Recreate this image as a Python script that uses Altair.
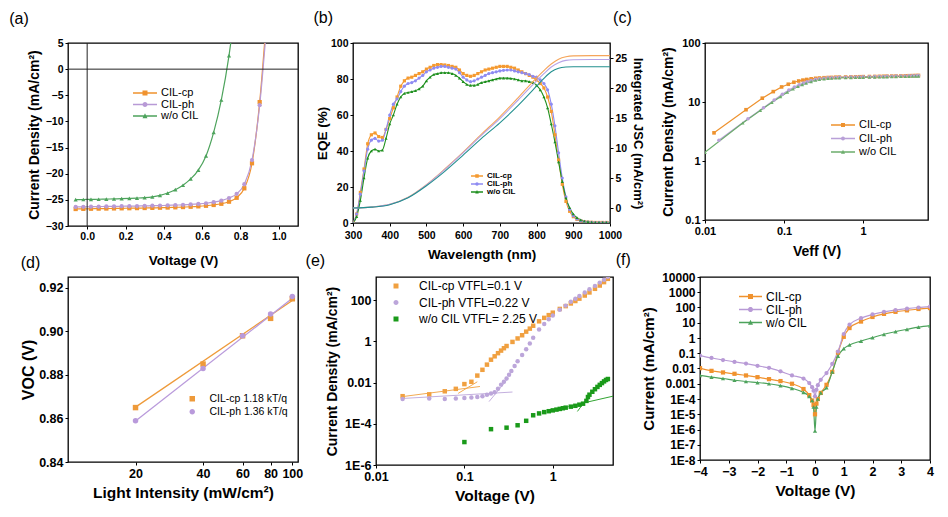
import altair as alt
import pandas as pd

FONT = "Liberation Sans"
SER = ["CIL-cp", "CIL-ph", "w/o CIL"]
NB = "\u00a0"
MK3 = ["square", "circle", "triangle-up"]

# ---------------- (a) J-V ----------------
A_V = [-0.06, -0.02, 0.02, 0.06, 0.10, 0.14, 0.18, 0.22, 0.26, 0.30, 0.34, 0.38, 0.42,
       0.46, 0.50, 0.54, 0.58, 0.62, 0.66, 0.70, 0.74, 0.78, 0.82, 0.86, 0.90, 0.94]
A_CP = [-26.75, -26.72, -26.70, -26.68, -26.66, -26.64, -26.62, -26.60, -26.58, -26.56, -26.53, -26.50, -26.47,
        -26.43, -26.38, -26.32, -26.24, -26.13, -25.98, -25.75, -25.35, -24.60, -22.80, -18.00, -6.30, 12.0]
A_PH = [-26.35, -26.33, -26.30, -26.28, -26.26, -26.24, -26.22, -26.20, -26.18, -26.15, -26.12, -26.09, -26.05,
        -26.00, -25.95, -25.88, -25.78, -25.65, -25.45, -25.15, -24.65, -23.85, -22.00, -17.40, -6.90, 10.0]
A_WO = [-24.95, -24.93, -24.90, -24.88, -24.85, -24.82, -24.78, -24.73, -24.66, -24.57, -24.42, -24.15, -23.70,
        -23.05, -22.20, -21.00, -19.30, -16.60, -12.10, -5.90, 2.60, 14.0]
A_XT = [0.0, 0.2, 0.4, 0.6, 0.8, 1.0]
A_YT = [-30, -25, -20, -15, -10, -5, 0, 5]
A_COL = ["#F0922E", "#B89AD6", "#4DA35C"]

# ---------------- (b) EQE ----------------
B_L = [300, 310, 320, 330, 340, 350, 360, 370, 380, 390, 400, 410, 420, 430, 440, 450, 460, 470, 480, 490,
       500, 510, 520, 530, 540, 550, 560, 570, 580, 590, 600, 610, 620, 630, 640, 650, 660, 670, 680, 690,
       700, 710, 720, 730, 740, 750, 760, 770, 780, 790, 800, 810, 820, 830, 840, 850, 860, 870, 880, 890,
       900, 910, 920, 930, 940, 950, 960, 970, 980, 990, 1000]
B_CP = [0, 5, 17, 30, 44, 49, 50, 48, 47.5, 52, 58, 64, 70, 76, 79, 80.5, 81, 82, 83, 84,
        85.5, 86.5, 87.5, 88, 88, 87.8, 87.5, 87, 86.5, 85, 83, 82, 81.5, 82, 83, 84, 85, 85.5, 86, 86.5,
        87, 87, 87, 86.5, 86, 85, 84, 83, 82, 81, 79.5, 77.5, 75, 70, 62, 49, 35, 21.5, 12, 6.5,
        3.5, 2, 1.2, 0.8, 0.5, 0.4, 0.3, 0.3, 0.3, 0.3, 0.3]
B_PH = [0, 5, 16, 29, 41, 46, 47, 45.5, 46, 52, 60, 66, 69, 73, 76, 77.5, 78, 79, 80.5, 82,
        84, 85, 86, 86.5, 87, 87, 86.5, 86, 85.5, 83.5, 81, 79.5, 78.5, 79, 80, 81, 82, 83, 83.5, 84,
        84.5, 84.8, 85, 85, 84.5, 84, 83.5, 83, 82.5, 81.5, 81, 79.5, 77.5, 74, 66, 54, 39, 25, 14.5, 7.5,
        4, 2.2, 1.3, 0.8, 0.5, 0.4, 0.3, 0.3, 0.3, 0.3, 0.3]
B_WO = [0, 3.5, 12.5, 25, 36, 40, 41, 40, 40.5, 47, 55, 60, 66, 70, 72, 72.5, 73, 73.5, 74.5, 76,
        79, 81, 82.5, 83, 83.5, 83.5, 83.5, 83, 82, 80.5, 78.5, 77, 76.5, 76.5, 77, 78, 78.5, 79, 79.5, 80,
        80.5, 80.5, 80.5, 80.3, 80, 79.5, 79, 79, 78.5, 78, 76.5, 74, 70, 64, 55, 45, 34, 23, 14, 8.5,
        5, 3, 1.8, 1.1, 0.7, 0.5, 0.4, 0.4, 0.4, 0.4, 0.4]
B_IL = [300, 350, 400, 450, 500, 550, 600, 650, 700, 750, 800, 820, 840, 860, 880, 900, 950, 1000]
B_ICP = [0, 0.15, 0.6, 1.8, 3.9, 6.5, 9.3, 12.3, 15.2, 18.4, 21.7, 22.9, 24.0, 24.8, 25.2, 25.35, 25.4, 25.4]
B_IPH = [0, 0.15, 0.6, 1.75, 3.85, 6.4, 9.2, 12.1, 14.9, 18.0, 21.2, 22.4, 23.5, 24.2, 24.6, 24.7, 24.75, 24.75]
B_IWO = [0, 0.14, 0.55, 1.7, 3.7, 6.1, 8.8, 11.6, 14.2, 17.1, 20.3, 21.6, 22.7, 23.3, 23.5, 23.55, 23.55, 23.55]
B_XT = [300, 400, 500, 600, 700, 800, 900, 1000]
B_YT = [0, 20, 40, 60, 80, 100]
B_Y2T = [0, 5, 10, 15, 20, 25]
B_COL = ["#F59A30", "#8E8BF2", "#1E8F1E"]
B_ICOL = ["#F5A55A", "#B7A3E6", "#23908F"]

# ---------------- (c) Jph-Veff ----------------
C_VCP = [0.013, 0.033, 0.053, 0.073, 0.093, 0.113, 0.133, 0.153, 0.173, 0.193, 0.22, 0.25, 0.28, 0.32, 0.36, 0.4,
         0.45, 0.5, 0.6, 0.7, 0.8, 0.9, 1.0, 1.2, 1.4, 1.6, 1.8, 2.0, 2.3, 2.6, 3.0, 3.4, 3.8, 4.2, 4.6, 5.0]
C_JCP = [3.0, 7.4, 11.6, 15.0, 18.0, 20.0, 21.6, 22.7, 23.5, 24.1, 24.7, 25.2, 25.5, 25.8, 26.0, 26.1,
         26.3, 26.4, 26.5, 26.6, 26.7, 26.8, 26.9, 27.0, 27.1, 27.2, 27.3, 27.4, 27.5, 27.6, 27.7, 27.8, 27.9, 28.0, 28.1, 28.2]
C_VPH = [0.015, 0.035, 0.055, 0.075, 0.095, 0.115, 0.135, 0.155, 0.175, 0.195, 0.22, 0.25, 0.28, 0.32, 0.36, 0.4,
         0.45, 0.5, 0.6, 0.7, 0.8, 0.9, 1.0, 1.2, 1.4, 1.6, 1.8, 2.0, 2.3, 2.6, 3.0, 3.4, 3.8, 4.2, 4.6, 5.0]
C_JPH = [2.25, 5.2, 8.0, 10.8, 13.5, 16.0, 18.0, 19.6, 21.0, 22.0, 23.2, 24.2, 24.8, 25.3, 25.6, 25.8,
         26.0, 26.1, 26.3, 26.4, 26.5, 26.6, 26.7, 26.8, 26.9, 27.0, 27.1, 27.2, 27.3, 27.4, 27.5, 27.6, 27.7, 27.8, 27.9, 28.0]
C_VWO = [0.01, 0.03, 0.05, 0.07, 0.09, 0.11, 0.13, 0.15, 0.17, 0.19, 0.22, 0.25, 0.28, 0.32, 0.36, 0.4,
         0.45, 0.5, 0.6, 0.7, 0.8, 0.9, 1.0, 1.2, 1.4, 1.6, 1.8, 2.0, 2.3, 2.6, 3.0, 3.4, 3.8, 4.2, 4.6, 5.0]
C_JWO = [1.4, 4.4, 7.2, 9.8, 12.3, 14.6, 16.6, 18.3, 19.7, 20.8, 22.2, 23.4, 24.1, 24.7, 25.1, 25.3,
         25.5, 25.6, 25.8, 25.9, 26.0, 26.1, 26.2, 26.3, 26.4, 26.5, 26.6, 26.7, 26.8, 26.9, 27.0, 27.1, 27.2, 27.3, 27.4, 27.5]
C_XT = [0.01, 0.1, 1]
C_YT = [0.1, 1, 10, 100]
C_COL = ["#EE922E", "#B9A0D8", "#6CAD6C"]

# ---------------- (d) Voc vs light ----------------
D_I = [20, 40, 60, 80, 100]
D_CP = [0.865, 0.885, 0.898, 0.906, 0.915]
D_PH = [0.859, 0.883, 0.898, 0.908, 0.916]
D_FIT_I = [20, 100]
D_FIT_CP = [0.8652, 0.9142]
D_FIT_PH = [0.8588, 0.9152]
D_XT = [20, 40, 60, 80, 100]
D_YT = [0.84, 0.86, 0.88, 0.90, 0.92]
D_NAMES = ["CIL-cp 1.18 kT/q", "CIL-ph 1.36 kT/q"]
D_COL = ["#EE9A3A", "#B99ADB"]

# ---------------- (e) SCLC ----------------
E_VCP = [0.02, 0.04, 0.06, 0.08, 0.10, 0.12, 0.14, 0.16, 0.18, 0.20, 0.22, 0.24, 0.26, 0.28, 0.30, 0.35, 0.40,
         0.45, 0.50, 0.55, 0.60, 0.70, 0.80, 0.90, 1.0, 1.2, 1.4, 1.6, 1.8, 2.0, 2.3, 2.6, 3.0, 3.4, 3.8, 4.2]
E_JCP = [0.0022, 0.0027, 0.0038, 0.005, 0.0085, 0.011, 0.022, 0.042, 0.075, 0.13, 0.19, 0.27, 0.36, 0.47, 0.6, 0.95, 1.4,
         2.0, 3.0, 4.2, 5.8, 9.5, 14, 19, 25, 38, 52, 70, 92, 120, 170, 240, 360, 520, 760, 1100]
E_VPH = [0.02, 0.04, 0.06, 0.08, 0.10, 0.12, 0.14, 0.16, 0.18, 0.20, 0.22, 0.24, 0.26, 0.28, 0.30, 0.32, 0.34, 0.37,
         0.40, 0.45, 0.50, 0.55, 0.60, 0.70, 0.80, 0.90, 1.0, 1.2, 1.4, 1.6, 1.8, 2.0, 2.3, 2.6, 3.0, 3.4, 3.8, 4.2]
E_JPH = [0.0016, 0.0017, 0.0016, 0.0017, 0.0018, 0.0019, 0.002, 0.0022, 0.0026, 0.003, 0.0034, 0.005, 0.008, 0.011,
         0.016, 0.024, 0.037, 0.065, 0.11, 0.22, 0.42, 0.8, 1.5, 3.8, 7, 12, 18, 35, 55, 85, 120, 160, 240, 340, 500,
         720, 1000, 1400]
E_VWO = [0.1, 0.2, 0.3, 0.4, 0.5, 0.6, 0.7, 0.8, 0.9, 1.0, 1.1, 1.2, 1.3, 1.4, 1.6, 1.8, 2.0, 2.2, 2.4, 2.5, 2.6,
         2.8, 3.0, 3.2, 3.4, 3.6, 3.8, 4.0, 4.2]
E_JWO = [1.3e-5, 5.5e-5, 6.5e-5, 8.5e-5, 1.4e-4, 2.6e-4, 3.2e-4, 3.7e-4, 4.1e-4, 4.5e-4, 4.9e-4, 5.3e-4, 5.7e-4,
         6.1e-4, 6.8e-4, 7.5e-4, 8.5e-4, 9.5e-4, 1.3e-3, 2.0e-3, 2.6e-3, 3.6e-3, 4.8e-3, 6.2e-3, 7.8e-3, 9.5e-3,
         0.0115, 0.0135, 0.015]
E_FIT_CP1 = ([0.02, 0.15], [0.0021, 0.0065])
E_FIT_CP2 = ([0.085, 0.14], [0.003, 0.011])
E_FIT_PH1 = ([0.02, 0.35], [0.0017, 0.0035])
E_FIT_PH2 = ([0.19, 0.30], [0.0012, 0.013])
E_FIT_WO1 = ([1.5, 4.8], [7e-4, 2.2e-3])
E_FIT_WO2 = ([1.9, 2.6], [4e-4, 2.5e-3])
E_XT = [0.01, 0.1, 1]
E_YT = [1e-6, 1e-4, 0.01, 1, 100]
E_NAMES = ["CIL-cp VTFL=0.1 V", "CIL-ph VTFL=0.22 V", "w/o CIL VTFL= 2.25 V"]
E_COL = ["#F0A040", "#BCA6DA", "#1A9A1A"]

# ---------------- (f) dark J-V ----------------
F_V = [-4.0, -3.6, -3.2, -2.8, -2.4, -2.0, -1.6, -1.2, -0.8, -0.4, -0.2, -0.1, -0.05, 0.0, 0.05, 0.1, 0.2,
       0.4, 0.6, 0.8, 1.0, 1.2, 1.6, 2.0, 2.4, 2.8, 3.2, 3.6, 4.0]
F_CP = [0.0105, 0.007, 0.0055, 0.0045, 0.0035, 0.0027, 0.002, 0.0015, 0.001, 0.00045, 0.00018, 8e-5, 4e-5, 1e-5,
        5e-5, 1e-4, 2.5e-4, 8.5e-4, 0.006, 0.11, 1.2, 4.5, 12, 24, 38, 52, 65, 80, 92]
F_PH = [0.07, 0.049, 0.036, 0.027, 0.021, 0.015, 0.011, 0.0065, 0.0035, 0.0022, 0.0011, 6e-4, 3.5e-4, 1.5e-4,
        4e-4, 8e-4, 0.0018, 0.005, 0.02, 0.13, 1.8, 7.5, 20, 35, 52, 68, 84, 100, 115]
F_WO = [0.0035, 0.0027, 0.0022, 0.0017, 0.0014, 0.0012, 0.001, 7.6e-4, 5e-4, 2.7e-4, 1.5e-4, 8e-5, 3e-5, 8e-7,
        3e-5, 1e-4, 2.5e-4, 5.6e-4, 0.006, 0.065, 0.2, 0.35, 0.63, 1.05, 1.75, 2.6, 3.7, 5.2, 6.5]
F_XT = [-4, -3, -2, -1, 0, 1, 2, 3, 4]
F_YT = [1e-8, 1e-7, 1e-6, 1e-5, 1e-4, 1e-3, 1e-2, 1e-1, 1, 10, 100, 1000, 10000]
F_COL = ["#F0922E", "#B89AD6", "#4DA35C"]

LOG_LBL = "datum.value < 0.0005 ? '1E' + round(log(datum.value) / LN10) : datum.label"


def long(xs_list, ys_list, names, xf, yf, key="series"):
    rows = []
    for xs, ys, nm in zip(xs_list, ys_list, names):
        for xv, yv in zip(xs, ys):
            rows.append({xf: xv, yf: yv, key: nm})
    return pd.DataFrame(rows)


def ax(title, values, fmt=None, lfs=10.5, tfs=13.5, tp=4, **kw):
    d = dict(title=title, values=values, labelFontSize=lfs, titleFontSize=tfs, titlePadding=tp,
             labelOverlap=False, labelFlush=False)
    if fmt:
        d["format"] = fmt
    d.update(kw)
    return alt.Axis(**d)


def path_for(shape, L, m, u, t=1.3):
    def s(v):
        return f"{v / u:.3f}"
    parts = []
    if L > 0:
        x0, x1 = u - L, u
        parts.append(f"M{s(x0)},{s(-t / 2)}L{s(x1)},{s(-t / 2)}L{s(x1)},{s(t / 2)}L{s(x0)},{s(t / 2)}Z")
        cx = u - L / 2
    else:
        cx = 0.0
    h = m / 2
    if shape == "square":
        parts.append(f"M{s(cx - h)},{s(-h)}L{s(cx + h)},{s(-h)}L{s(cx + h)},{s(h)}L{s(cx - h)},{s(h)}Z")
    elif shape == "circle":
        parts.append(f"M{s(cx + h)},0A{s(h)},{s(h)} 0 1,1 {s(cx - h)},0A{s(h)},{s(h)} 0 1,1 {s(cx + h)},0Z")
    else:
        parts.append(f"M{s(cx)},{s(-1.1 * h)}L{s(cx + h)},{s(0.9 * h)}L{s(cx - h)},{s(0.9 * h)}Z")
    return "".join(parts)


def legend_layer(X, Y, names, colors, shapes, lx, ly, fs, L, m, u, weight="normal", rowpad=0.0, offset=4):
    """Legend-only layer: its rows carry no position, so no mark is drawn; the same
    x / y channel definitions as the data layers keep the axes identical."""
    paths = [path_for(sh, L, m, u) for sh in shapes]
    df = pd.DataFrame({X.shorthand.split(":")[0]: [None] * len(names),
                       Y.shorthand.split(":")[0]: [None] * len(names), "lg": names})
    lg = alt.Legend(title=None, orient="none", legendX=lx, legendY=ly, labelFont=FONT, labelFontSize=fs,
                    labelFontWeight=weight, labelColor="black", symbolSize=4 * u * u, symbolStrokeWidth=0,
                    rowPadding=rowpad, padding=0, labelOffset=offset, symbolOpacity=1)
    return alt.Chart(df).mark_point(filled=True, opacity=1).encode(
        X, Y,
        color=alt.Color("lg:N", scale=alt.Scale(domain=names, range=colors), legend=lg),
        shape=alt.Shape("lg:N", scale=alt.Scale(domain=names, range=paths), legend=lg))


def ttl(text, dx, offset):
    return alt.TitleParams(text=text, anchor="start", dx=dx, offset=offset, fontSize=16, font=FONT,
                           fontWeight="normal", color="black")


# ---------- panel a ----------
dfa = long([A_V, A_V, A_V[:len(A_WO)]], [A_CP, A_PH, A_WO], SER, "V", "J")
xa = alt.X("V:Q", scale=alt.Scale(domain=[-0.1, 1.1], nice=False, zero=False),
           axis=ax("Voltage (V)", A_XT, ".1f", 10.5, 13.5, 12))
ya = alt.Y("J:Q", scale=alt.Scale(domain=[-30, 5], nice=False, zero=False),
           axis=ax("Current Density (mA/cm²)", A_YT, "d", 10.5, 14, 4))
ca = alt.Color("series:N", scale=alt.Scale(domain=SER, range=A_COL), legend=None)
sa = alt.Shape("series:N", scale=alt.Scale(domain=SER, range=MK3), legend=None)
a_lines = alt.Chart(dfa).mark_line(clip=True, interpolate="monotone", strokeWidth=1.2).encode(xa, ya, ca)
a_pts = alt.Chart(dfa).mark_point(clip=True, filled=True, size=18, opacity=1).encode(xa, ya, ca, sa)
a_h = alt.Chart(pd.DataFrame({"J": [0.0]})).mark_rule(color="#222", strokeWidth=1).encode(y=ya)
a_v = alt.Chart(pd.DataFrame({"V": [0.0]})).mark_rule(color="#222", strokeWidth=1).encode(x=xa)
a_leg = legend_layer(xa, ya, SER, A_COL, MK3, 77, 44, 11, 24, 5, 6, rowpad=0.5)
panel_a = alt.layer(a_lines, a_pts, a_h, a_v, a_leg).resolve_scale(
    color="independent", shape="independent").properties(width=230, height=183, title=ttl("(a)", -18, 11))

# ---------- panel b ----------
dfb = long([B_L, B_L, B_L], [B_CP, B_PH, B_WO], SER, "wl", "eqe")
dfbi = long([B_IL, B_IL, B_IL], [B_ICP, B_IPH, B_IWO], SER, "wl", "js")
xb = alt.X("wl:Q", scale=alt.Scale(domain=[300, 1000], nice=False, zero=False),
           axis=ax("Wavelength (nm)", B_XT, "d", 10.5, 13.5, 7, labelPadding=4))
yb = alt.Y("eqe:Q", scale=alt.Scale(domain=[0, 100], nice=False),
           axis=ax("EQE (%)", B_YT, "d", 10.5, 13.5, 1))
yb2 = alt.Y("js:Q", scale=alt.Scale(domain=[-2.5, 27.5], nice=False, zero=False),
            axis=ax("Integrated JSC (mA/cm²)", B_Y2T, "d", 10.5, 13, 4, orient="right"))
cb = alt.Color("series:N", scale=alt.Scale(domain=SER, range=B_COL), legend=None)
sb = alt.Shape("series:N", scale=alt.Scale(domain=SER, range=MK3), legend=None)
cbi = alt.Color("series:N", scale=alt.Scale(domain=SER, range=B_ICOL), legend=None)
b_lines = alt.Chart(dfb).mark_line(clip=True, interpolate="monotone", strokeWidth=1.1).encode(xb, yb, cb)
b_pts = alt.Chart(dfb).mark_point(clip=True, filled=True, size=10, opacity=1).encode(xb, yb, cb, sb)
b_leg = legend_layer(xb, yb, SER, B_COL, MK3, 122, 129, 8, 12, 3.5, 4, weight="bold", rowpad=0)
b_left = alt.layer(b_lines, b_pts, b_leg).resolve_scale(color="independent", shape="independent")
b_int = alt.Chart(dfbi).mark_line(clip=True, interpolate="monotone", strokeWidth=1.1).encode(xb, yb2, cbi)
panel_b = alt.layer(b_left, b_int).resolve_scale(y="independent", color="independent").properties(
    width=257, height=180, title=ttl("(b)" + NB * 63 + "(c)", -2, 12))

# ---------- panel c ----------
dfc = long([C_VCP, C_VPH, C_VWO], [C_JCP, C_JPH, C_JWO], SER, "veff", "jph")
xc = alt.X("veff:Q", scale=alt.Scale(type="log", domain=[0.01, 6.6], nice=False),
           axis=ax("Veff (V)", C_XT, "~g", 11, 14, 8))
yc = alt.Y("jph:Q", scale=alt.Scale(type="log", domain=[0.1, 100], nice=False),
           axis=ax("Current Density (mA/cm²)", C_YT, "~g", 11, 14, 6))
cc = alt.Color("series:N", scale=alt.Scale(domain=SER, range=C_COL), legend=None)
sc = alt.Shape("series:N", scale=alt.Scale(domain=SER, range=MK3), legend=None)
c_lines = alt.Chart(dfc).mark_line(clip=True, strokeWidth=1.2).encode(xc, yc, cc)
c_pts = alt.Chart(dfc).mark_point(clip=True, filled=True, size=13, opacity=1).encode(xc, yc, cc, sc)
c_leg = legend_layer(xc, yc, SER, C_COL, MK3, 138, 76, 11, 24, 4, 6, rowpad=2.5)
panel_c = alt.layer(c_lines, c_pts, c_leg).resolve_scale(color="independent", shape="independent").properties(
    width=223, height=177, title=ttl(NB, -3, 12))

# ---------- panel d ----------
dfd = long([D_I, D_I], [D_CP, D_PH], SER[:2], "li", "voc")
dfdf = long([D_FIT_I, D_FIT_I], [D_FIT_CP, D_FIT_PH], SER[:2], "li", "voc")
xd = alt.X("li:Q", scale=alt.Scale(type="log", domain=[10, 106], nice=False),
           axis=ax("Light Intensity (mW/cm²)", D_XT, "d", 12.5, 15.5, 6))
yd = alt.Y("voc:Q", scale=alt.Scale(domain=[0.84, 0.925], nice=False, zero=False),
           axis=ax("VOC (V)", D_YT, ".2f", 12.5, 16, 2))
cd = alt.Color("series:N", scale=alt.Scale(domain=SER[:2], range=D_COL), legend=None)
sd = alt.Shape("series:N", scale=alt.Scale(domain=SER[:2], range=["square", "circle"]), legend=None)
d_fit = alt.Chart(dfdf).mark_line(clip=True, strokeWidth=1.3).encode(xd, yd, cd)
d_pts = alt.Chart(dfd).mark_point(clip=True, filled=True, size=30, opacity=1).encode(xd, yd, cd, sd)
d_leg = legend_layer(xd, yd, D_NAMES, D_COL, ["square", "circle"], 119, 116.5, 10.5, 0, 5.5, 3, rowpad=2, offset=12)
panel_d = alt.layer(d_fit, d_pts, d_leg).resolve_scale(color="independent", shape="independent").properties(
    width=230, height=185, title=ttl("(d)", 0, 6))

# ---------- panel e ----------
dfe = long([E_VCP, E_VPH, E_VWO], [E_JCP, E_JPH, E_JWO], SER, "ve", "je")
fits = [E_FIT_CP1, E_FIT_CP2, E_FIT_PH1, E_FIT_PH2, E_FIT_WO1, E_FIT_WO2]
fit_ser = ["CIL-cp", "CIL-cp", "CIL-ph", "CIL-ph", "w/o CIL", "w/o CIL"]
fit_rows = []
for k, ((fx, fy), sname) in enumerate(zip(fits, fit_ser)):
    for xv, yv in zip(fx, fy):
        fit_rows.append({"ve": xv, "je": yv, "series": sname, "seg": k})
dfef = pd.DataFrame(fit_rows)
xe = alt.X("ve:Q", scale=alt.Scale(type="log", domain=[0.01, 4.8], nice=False),
           axis=ax("Voltage (V)", E_XT, "~g", 12.5, 15.5, 6))
ye = alt.Y("je:Q", scale=alt.Scale(type="log", domain=[1e-6, 1350], nice=False),
           axis=ax("Current Density (mA/cm²)", E_YT, "~g", 12.5, 14, 5, labelExpr=LOG_LBL))
ce = alt.Color("series:N", scale=alt.Scale(domain=SER, range=E_COL), legend=None)
se = alt.Shape("series:N", scale=alt.Scale(domain=SER, range=["square", "circle", "square"]), legend=None)
e_fit = alt.Chart(dfef).mark_line(clip=True, strokeWidth=0.9).encode(xe, ye, ce, detail="seg:N")
e_pts = alt.Chart(dfe).mark_point(clip=True, filled=True, size=20, opacity=1).encode(xe, ye, ce, se)
e_leg = legend_layer(xe, ye, E_NAMES, E_COL, ["square", "circle", "square"], 14, 3, 12, 0, 5, 3,
                     rowpad=4.5, offset=17)
panel_e = alt.layer(e_fit, e_pts, e_leg).resolve_scale(color="independent", shape="independent").properties(
    width=237, height=188, title=ttl("(e)", -20, 8))

# ---------- panel f ----------
dff = long([F_V, F_V, F_V], [F_CP, F_PH, F_WO], SER, "vf", "jf")
xf = alt.X("vf:Q", scale=alt.Scale(domain=[-4, 4], nice=False, zero=False),
           axis=ax("Voltage (V)", F_XT, "d", 12.5, 15.5, 6))
yf = alt.Y("jf:Q", scale=alt.Scale(type="log", domain=[1e-8, 1e4], nice=False),
           axis=ax("Current (mA/cm²)", F_YT, "~g", 12, 15, 5, labelExpr=LOG_LBL))
cf = alt.Color("series:N", scale=alt.Scale(domain=SER, range=F_COL), legend=None)
sf = alt.Shape("series:N", scale=alt.Scale(domain=SER, range=MK3), legend=None)
f_lines = alt.Chart(dff).mark_line(clip=True, interpolate="monotone", strokeWidth=1.2).encode(xf, yf, cf)
f_pts = alt.Chart(dff).mark_point(clip=True, filled=True, size=18, opacity=1).encode(xf, yf, cf, sf)
f_leg = legend_layer(xf, yf, SER, F_COL, MK3, 50, 13.5, 12, 23, 5, 6, rowpad=1)
panel_f = alt.layer(f_lines, f_pts, f_leg).resolve_scale(color="independent", shape="independent").properties(
    width=230, height=183, title=ttl("(f)", -26, 3))

row1 = alt.hconcat(panel_a, panel_b, panel_c, spacing=12)
row2 = alt.hconcat(panel_d, panel_e, panel_f, spacing=0)
chart = alt.vconcat(row1, row2, spacing=-17).properties(
    padding={"left": 0, "top": 0, "right": 0, "bottom": 0}
).configure_axis(
    labelFont=FONT, titleFont=FONT, labelFontWeight="bold", titleFontWeight="bold",
    labelColor="black", titleColor="black", grid=False, domain=False, tickColor="black",
    tickSize=3, tickWidth=1, labelPadding=2, labelFlush=False, labelOverlap=False
).configure_view(stroke="black", strokeWidth=1.3)

chart.save("out.html", embed_options={"renderer": "svg", "actions": False})
